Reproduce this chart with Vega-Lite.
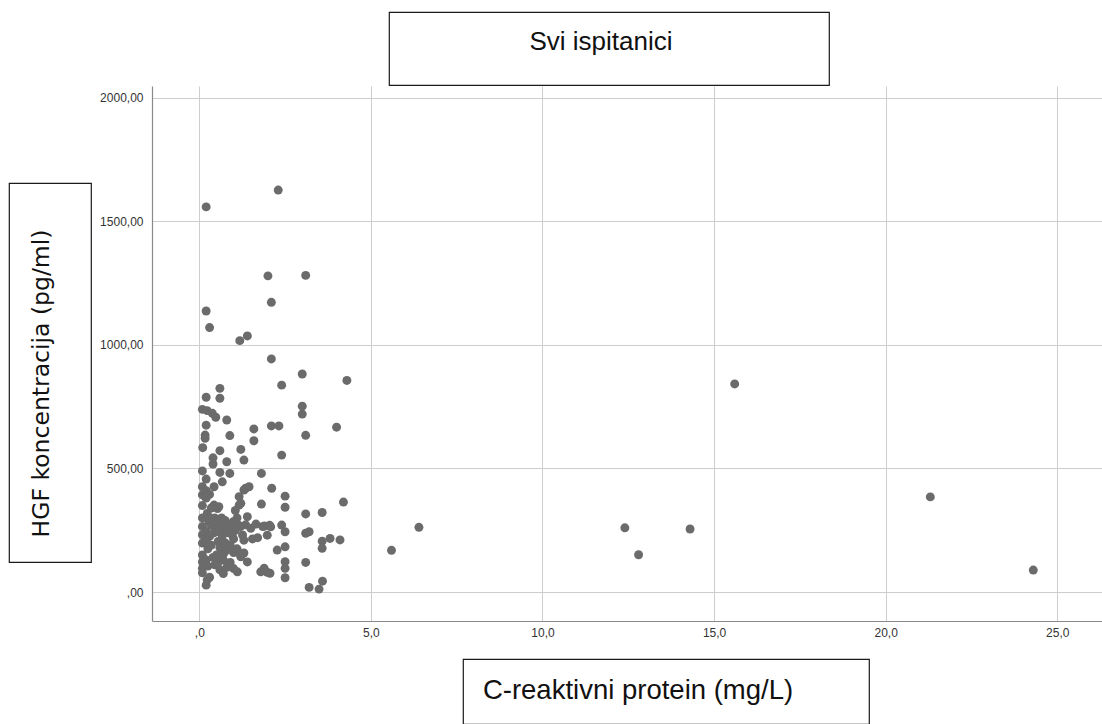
{
  "$schema": "https://vega.github.io/schema/vega-lite/v6.json",
  "padding": {"top": 11, "left": 0, "right": 0, "bottom": 0},
  "background": "white",
  "spacing": 0,
  "align": "none",
  "config": {
    "view": {"stroke": null},
    "concat": {"spacing": 0},
    "text": {"font": "Liberation Sans"}
  },
  "datasets": {
    "pts": [
      {"crp": 2.30, "hgf": 1626}, {"crp": 0.20, "hgf": 1558}, {"crp": 2.00, "hgf": 1279}, {"crp": 3.10, "hgf": 1281},
      {"crp": 2.10, "hgf": 1172}, {"crp": 0.20, "hgf": 1137}, {"crp": 0.30, "hgf": 1070}, {"crp": 1.18, "hgf": 1017},
      {"crp": 1.40, "hgf": 1036}, {"crp": 2.10, "hgf": 943}, {"crp": 3.00, "hgf": 882}, {"crp": 2.40, "hgf": 837},
      {"crp": 4.30, "hgf": 856}, {"crp": 0.60, "hgf": 824}, {"crp": 0.20, "hgf": 788}, {"crp": 0.60, "hgf": 784},
      {"crp": 0.09, "hgf": 739}, {"crp": 0.23, "hgf": 734}, {"crp": 0.38, "hgf": 723}, {"crp": 0.48, "hgf": 707},
      {"crp": 0.80, "hgf": 696}, {"crp": 3.00, "hgf": 752}, {"crp": 3.00, "hgf": 720}, {"crp": 0.20, "hgf": 675},
      {"crp": 1.59, "hgf": 660}, {"crp": 2.10, "hgf": 672}, {"crp": 2.32, "hgf": 672}, {"crp": 4.00, "hgf": 667},
      {"crp": 0.17, "hgf": 635}, {"crp": 0.17, "hgf": 622}, {"crp": 0.89, "hgf": 633}, {"crp": 3.10, "hgf": 634},
      {"crp": 1.59, "hgf": 612}, {"crp": 0.10, "hgf": 584}, {"crp": 0.60, "hgf": 572}, {"crp": 1.21, "hgf": 577},
      {"crp": 0.40, "hgf": 543}, {"crp": 0.40, "hgf": 518}, {"crp": 0.80, "hgf": 527}, {"crp": 1.30, "hgf": 534},
      {"crp": 2.40, "hgf": 554}, {"crp": 0.09, "hgf": 490}, {"crp": 0.60, "hgf": 484}, {"crp": 0.89, "hgf": 480},
      {"crp": 1.81, "hgf": 480},
      {"crp": 15.60, "hgf": 842}, {"crp": 21.30, "hgf": 385}, {"crp": 24.30, "hgf": 89}, {"crp": 5.60, "hgf": 169},
      {"crp": 6.40, "hgf": 262}, {"crp": 12.40, "hgf": 260}, {"crp": 12.80, "hgf": 151}, {"crp": 14.30, "hgf": 255},
      {"crp": 2.11, "hgf": 420}, {"crp": 2.50, "hgf": 388}, {"crp": 2.50, "hgf": 343}, {"crp": 4.20, "hgf": 364},
      {"crp": 3.10, "hgf": 316}, {"crp": 3.58, "hgf": 322}, {"crp": 1.81, "hgf": 356}, {"crp": 1.21, "hgf": 359},
      {"crp": 2.08, "hgf": 264}, {"crp": 2.40, "hgf": 271}, {"crp": 2.50, "hgf": 244}, {"crp": 3.10, "hgf": 238},
      {"crp": 3.20, "hgf": 244}, {"crp": 3.58, "hgf": 206}, {"crp": 3.81, "hgf": 217}, {"crp": 4.10, "hgf": 211},
      {"crp": 3.58, "hgf": 177}, {"crp": 2.27, "hgf": 170}, {"crp": 2.50, "hgf": 183}, {"crp": 2.50, "hgf": 123},
      {"crp": 2.50, "hgf": 96}, {"crp": 2.50, "hgf": 58}, {"crp": 3.10, "hgf": 120}, {"crp": 2.06, "hgf": 76},
      {"crp": 3.20, "hgf": 19}, {"crp": 3.49, "hgf": 12}, {"crp": 3.59, "hgf": 44}, {"crp": 1.79, "hgf": 82},
      {"crp": 1.89, "hgf": 96}, {"crp": 1.98, "hgf": 80}, {"crp": 1.11, "hgf": 82}, {"crp": 1.40, "hgf": 122},
      {"crp": 1.21, "hgf": 143}, {"crp": 0.20, "hgf": 28}, {"crp": 0.23, "hgf": 49}, {"crp": 1.90, "hgf": 267},
      {"crp": 1.98, "hgf": 230},
      {"crp": 0.09, "hgf": 426}, {"crp": 0.09, "hgf": 393}, {"crp": 0.09, "hgf": 350}, {"crp": 0.09, "hgf": 300},
      {"crp": 0.09, "hgf": 265}, {"crp": 0.09, "hgf": 232}, {"crp": 0.09, "hgf": 198}, {"crp": 0.09, "hgf": 150},
      {"crp": 0.09, "hgf": 122}, {"crp": 0.09, "hgf": 96}, {"crp": 0.09, "hgf": 78}, {"crp": 0.20, "hgf": 457},
      {"crp": 0.20, "hgf": 410}, {"crp": 0.20, "hgf": 380}, {"crp": 0.23, "hgf": 318}, {"crp": 0.28, "hgf": 284},
      {"crp": 0.20, "hgf": 245}, {"crp": 0.20, "hgf": 210}, {"crp": 0.25, "hgf": 175}, {"crp": 0.20, "hgf": 130},
      {"crp": 0.25, "hgf": 105}, {"crp": 0.30, "hgf": 60}, {"crp": 0.43, "hgf": 426}, {"crp": 0.67, "hgf": 446},
      {"crp": 0.43, "hgf": 352}, {"crp": 0.53, "hgf": 338}, {"crp": 0.45, "hgf": 300}, {"crp": 0.50, "hgf": 265},
      {"crp": 0.43, "hgf": 240}, {"crp": 0.60, "hgf": 280}, {"crp": 0.65, "hgf": 300}, {"crp": 0.70, "hgf": 255},
      {"crp": 0.75, "hgf": 290}, {"crp": 0.85, "hgf": 270}, {"crp": 0.95, "hgf": 260}, {"crp": 0.99, "hgf": 285},
      {"crp": 0.67, "hgf": 231}, {"crp": 0.96, "hgf": 231}, {"crp": 1.26, "hgf": 231}, {"crp": 0.55, "hgf": 205},
      {"crp": 0.60, "hgf": 180}, {"crp": 0.75, "hgf": 200}, {"crp": 0.80, "hgf": 170}, {"crp": 0.90, "hgf": 190},
      {"crp": 1.00, "hgf": 160}, {"crp": 1.10, "hgf": 175}, {"crp": 1.20, "hgf": 150}, {"crp": 0.50, "hgf": 150},
      {"crp": 0.55, "hgf": 120}, {"crp": 0.70, "hgf": 130}, {"crp": 0.80, "hgf": 100}, {"crp": 0.90, "hgf": 120},
      {"crp": 0.60, "hgf": 90}, {"crp": 0.70, "hgf": 75}, {"crp": 1.00, "hgf": 95}, {"crp": 0.45, "hgf": 110},
      {"crp": 1.16, "hgf": 386}, {"crp": 1.30, "hgf": 413}, {"crp": 1.45, "hgf": 426}, {"crp": 1.16, "hgf": 352},
      {"crp": 1.35, "hgf": 420}, {"crp": 1.40, "hgf": 305}, {"crp": 1.20, "hgf": 265}, {"crp": 1.35, "hgf": 272},
      {"crp": 1.50, "hgf": 258}, {"crp": 1.65, "hgf": 275}, {"crp": 1.85, "hgf": 265}, {"crp": 2.05, "hgf": 270},
      {"crp": 1.30, "hgf": 210}, {"crp": 1.55, "hgf": 215}, {"crp": 1.70, "hgf": 220}, {"crp": 1.10, "hgf": 300},
      {"crp": 1.05, "hgf": 330}, {"crp": 0.30, "hgf": 395}, {"crp": 0.35, "hgf": 340}, {"crp": 0.57, "hgf": 345},
      {"crp": 1.30, "hgf": 158}, {"crp": 0.72, "hgf": 158},
      {"crp": 0.35, "hgf": 270}, {"crp": 0.55, "hgf": 245}, {"crp": 0.80, "hgf": 240}, {"crp": 1.05, "hgf": 250},
      {"crp": 0.30, "hgf": 225}, {"crp": 0.65, "hgf": 215}, {"crp": 1.00, "hgf": 215}, {"crp": 0.35, "hgf": 190},
      {"crp": 0.40, "hgf": 140}, {"crp": 0.65, "hgf": 150}, {"crp": 1.15, "hgf": 270}, {"crp": 0.30, "hgf": 300}
    ]
  },
  "vconcat": [
    {
      "hconcat": [
        {"width": 388, "height": 73, "data": {"values": []}, "mark": {"type": "point", "opacity": 0}},
        {
          "width": 440, "height": 73,
          "view": {"stroke": "#1a1a1a", "strokeWidth": 1.2, "fill": "white"},
          "data": {"values": [{"label": "Svi ispitanici"}]},
          "mark": {"type": "text", "font": "Liberation Sans", "fontSize": 26, "color": "#111", "dx": -8, "dy": -7},
          "encoding": {"text": {"field": "label"}}
        }
      ],
      "spacing": 0, "align": "none"
    },
    {
      "hconcat": [
        {"width": 8, "height": 10, "data": {"values": []}, "mark": {"type": "point", "opacity": 0}},
        {
          "vconcat": [
            {"width": 82, "height": 96, "data": {"values": []}, "mark": {"type": "point", "opacity": 0}},
            {
              "width": 82, "height": 379,
              "view": {"stroke": "#1a1a1a", "strokeWidth": 1.2, "fill": "white"},
              "data": {"values": [{"label": "HGF koncentracija (pg/ml)"}]},
              "mark": {"type": "text", "font": "DejaVu Sans", "fontSize": 23.5, "color": "#111", "angle": 270, "dx": -11, "dy": -8},
              "encoding": {"text": {"field": "label"}}
            }
          ],
          "spacing": 0, "align": "none"
        },
        {"width": 7, "height": 10, "data": {"values": []}, "mark": {"type": "point", "opacity": 0}},
        {
          "width": 953, "height": 535,
          "data": {"name": "pts"},
          "mark": {"type": "circle", "size": 80, "color": "#6b6b6b", "opacity": 1},
          "encoding": {
            "x": {
              "field": "crp", "type": "quantitative",
              "scale": {"domain": [-1.378, 26.39], "nice": false, "zero": false},
              "axis": {
                "title": null, "values": [0, 5, 10, 15, 20, 25],
                "labelExpr": "datum.value == 0 ? ',0' : replace(format(datum.value, '.1f'), '.', ',')",
                "grid": true, "gridColor": "#cdcdcd", "gridWidth": 1,
                "domainColor": "#8a8a8a", "domainWidth": 1.2,
                "ticks": false, "tickSize": 0, "labelPadding": 6,
                "labelFont": "Liberation Sans", "labelFontSize": 12, "labelColor": "#333333"
              }
            },
            "y": {
              "field": "hgf", "type": "quantitative",
              "scale": {"domain": [-117, 2047], "nice": false, "zero": false},
              "axis": {
                "title": null, "values": [0, 500, 1000, 1500, 2000],
                "labelExpr": "datum.value == 0 ? ',00' : replace(format(datum.value, '.2f'), '.', ',')",
                "grid": true, "gridColor": "#cdcdcd", "gridWidth": 1,
                "domainColor": "#8a8a8a", "domainWidth": 1.2,
                "ticks": false, "tickSize": 0, "labelPadding": 9,
                "labelFont": "Liberation Sans", "labelFontSize": 12, "labelColor": "#333333"
              }
            }
          }
        }
      ],
      "spacing": 0, "align": "none"
    },
    {
      "hconcat": [
        {"width": 462, "height": 10, "data": {"values": []}, "mark": {"type": "point", "opacity": 0}},
        {
          "vconcat": [
            {"width": 406, "height": 20, "data": {"values": []}, "mark": {"type": "point", "opacity": 0}},
            {
              "width": 406, "height": 65,
              "view": {"stroke": "#1a1a1a", "strokeWidth": 1.2, "fill": "white"},
              "data": {"values": [{"label": "C-reaktivni protein (mg/L)"}]},
              "mark": {"type": "text", "font": "Liberation Sans", "fontSize": 27.5, "color": "#111", "dx": -28, "dy": -1},
              "encoding": {"text": {"field": "label"}}
            }
          ],
          "spacing": 0, "align": "none"
        }
      ],
      "spacing": 0, "align": "none"
    }
  ]
}
